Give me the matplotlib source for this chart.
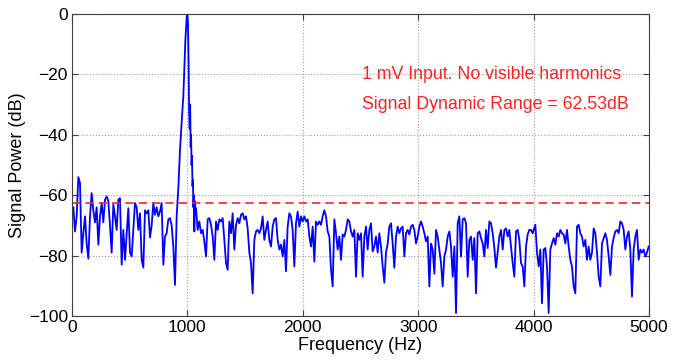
# Signal power spectrum, 1 mV input

import numpy as np
import matplotlib.pyplot as plt

plt.rcParams['font.family'] = ['Liberation Sans', 'DejaVu Sans']

# bin spacing of the traced spectrum (Hz)
df = 14.44

# 0 - 920 Hz
seg_a_start = 11.6
seg_a = [-64, -72, -67, -54, -56, -79, -72.6, -67, -76, -81, -67, -59.3, -65, -69, -64,
         -76.4, -67, -62.6, -69, -61.5, -60.4, -62, -70, -79, -63, -67, -71.5, -61.5, -61,
         -83, -71.5, -81.4, -72.6, -64.3, -79, -80.3, -71.5, -62.6, -64, -71.5, -66, -81.4,
         -84, -65, -66, -65, -74, -70, -62.6, -66.5, -64, -67, -65.4, -62.6, -83, -73.7,
         -72.6, -68, -67.6, -70, -77, -89.7, -67, -57.7]

# the 1 kHz tone
peak_freq = [936, 950, 965, 982, 994, 1000, 1005, 1010, 1015, 1020, 1024, 1028, 1032,
             1036, 1040, 1044, 1048, 1052, 1056, 1060, 1064, 1070]
peak_db = [-45, -36, -27, -9, -1, 0, -3, -15, -33, -38, -30, -44, -40, -50, -47, -57,
           -55, -64, -60, -72, -62, -65]

# 1075 - 2000 Hz
seg_b_start = 1074.6
seg_b = [-64.3, -71.5, -68.7, -72.6, -71.5, -75.3, -80.3, -68, -67.6, -69.8, -73.7, -81.4,
         -68.7, -71.5, -68, -68.7, -67.6, -74.8, -82.5, -84.7, -68.7, -72.6, -66, -78,
         -69.8, -67.6, -69.3, -66.5, -66, -68, -67, -71, -79, -82.5, -92.5, -74.8, -72,
         -71.5, -72.6, -71, -67, -74.8, -71.5, -68.7, -74.8, -77, -70.4, -68, -67.6, -74.8,
         -78, -76.4, -80.3, -74.8, -85.2, -70.4, -66, -67, -71.5, -83.6, -69.3, -65.4,
         -70.4, -67, -68.7]

# 2013 - 2996 Hz
seg_c_start = 2013.4
seg_c = [-67, -68.7, -68, -73.7, -77, -70.4, -82, -68.7, -69.8, -68.7, -69.8, -67, -65,
         -67, -72, -73.7, -84.7, -90.2, -68, -72.6, -78, -73.7, -81.4, -73, -73.7, -71.5,
         -68, -68.7, -72, -73.7, -71.5, -87, -72.6, -74.8, -72.6, -87, -73.7, -70.4, -78,
         -71.5, -69.3, -78.6, -77, -73.7, -79, -72.6, -77, -83.6, -89, -79, -76, -70.4,
         -69.3, -76, -84, -73.7, -70.4, -72.6, -71, -70.4, -80.3, -72.6, -71.5, -73, -70.4,
         -69.8, -71.5, -76, -73.7]

# 3010 - 3992 Hz
seg_d_start = 3010.0
seg_d = [-70.4, -68.7, -70.4, -72.6, -75.3, -73.7, -90.2, -76, -78, -86, -71.5, -73.7, -78,
         -82.5, -90.2, -80.3, -78, -73.7, -72, -77, -87, -77, -99, -69.3, -67, -80.3, -68,
         -67.6, -69.3, -87, -74.8, -73.7, -81.4, -74.2, -92.5, -72.6, -72, -74.2, -76,
         -80.3, -71.5, -77.5, -68.7, -69.3, -72.6, -77.5, -84, -79, -73.7, -71.5, -78,
         -71.5, -71, -73.7, -71.5, -77, -82.5, -87, -72, -71.5, -74.8, -82.5, -83.6, -90.2,
         -77, -73, -71.5, -71.5, -72.6]

# 4015 - 5000 Hz
seg_e_start = 4015.0
seg_e = [-69.8, -79, -83.6, -78, -95.8, -78, -77.5, -83.6, -99, -78, -76, -74.2, -76.4,
         -72.6, -73.7, -71.5, -72.6, -73, -76, -71.5, -77, -81.4, -83.6, -90.2, -92.5,
         -70.4, -69.8, -72.6, -73.7, -77, -74.8, -81.4, -77, -81.4, -79, -71, -72.6, -79,
         -87, -90.2, -76, -74.2, -72.6, -74.8, -80.3, -86.4, -77, -74.2, -72, -71.5, -72.6,
         -68.7, -69.3, -71.5, -78, -73.7, -72, -78, -93.6, -78, -73.7, -71.5, -81.4, -78,
         -79, -78, -80.3, -79, -77]

dynamic_range = 62.53
note1 = "1 mV Input. No visible harmonics"
note2 = "Signal Dynamic Range = %.2fdB" % dynamic_range


def bins(start, vals):
    return start + df * np.arange(len(vals))


freq = np.concatenate([bins(seg_a_start, seg_a), peak_freq, bins(seg_b_start, seg_b),
                       bins(seg_c_start, seg_c), bins(seg_d_start, seg_d),
                       bins(seg_e_start, seg_e)])
power = np.concatenate([seg_a, peak_db, seg_b, seg_c, seg_d, seg_e])

fig = plt.figure(figsize=(6.87, 3.64), dpi=100)
ax = fig.add_axes([0.1048, 0.1319, 0.8399, 0.8296])

ax.plot(freq, power, color='#0000ff', lw=1.3)
ax.axhline(-dynamic_range, color='#ff2020', ls=(0, (5, 3)), lw=1.2)

ax.text(2510, -20, note1, color='#ff2020', fontsize=12.8, va='center')
ax.text(2510, -30, note2, color='#ff2020', fontsize=12.8, va='center')

ax.set_xlim(0, 5000)
ax.set_ylim(-100, 0)
ax.set_xticks([0, 1000, 2000, 3000, 4000, 5000])
ax.set_yticks([0, -20, -40, -60, -80, -100])
ax.grid(True, ls=':', color='#a0a0a0', lw=0.8)
ax.tick_params(direction='in', top=True, right=True, labelsize=12.5, length=4,
               color='#404040', pad=3)
for s in ax.spines.values():
    s.set_color('#404040')

ax.set_xlabel("Frequency (Hz)", fontsize=13, labelpad=1)
ax.set_ylabel("Signal Power (dB)", fontsize=13, labelpad=2)

fig.savefig("out.png", dpi=100)
